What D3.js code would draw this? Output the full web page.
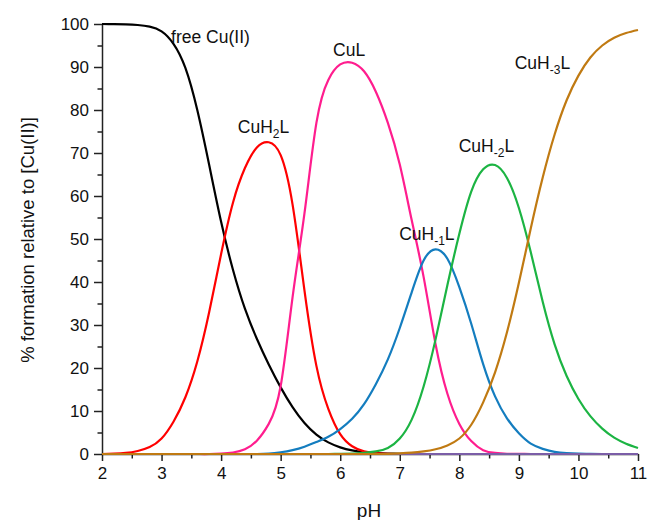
<!DOCTYPE html>
<html>
<head>
<meta charset="utf-8">
<script src="https://cdn.jsdelivr.net/npm/d3@7"></script>
<style>
  html, body { margin: 0; padding: 0; background: #fff; }
  svg { display: block; font-family: "Liberation Sans", Arial, Helvetica, sans-serif; }
</style>
</head>
<body>
<svg id="chart" width="649" height="520"></svg>
<script>
// pH grid of the speciation curves
const pH = [2.0, 2.2, 2.4, 2.6, 2.8, 3.0, 3.2, 3.4, 3.6, 3.8,
            4.0, 4.2, 4.4, 4.6, 4.8, 5.0, 5.2, 5.4, 5.6, 5.8,
            6.0, 6.2, 6.4, 6.6, 6.8, 7.0, 7.2, 7.4, 7.6, 7.8,
            8.0, 8.2, 8.4, 8.6, 8.8, 9.0, 9.2, 9.4, 9.6, 9.8,
            10.0, 10.2, 10.4, 10.6, 10.8, 11.0];

// % of total Cu(II) present as each species
const freeCu = [100, 99.98, 99.92, 99.77, 99.4, 98.3, 95.4, 89.8, 80, 67.2,
                54, 42.8, 33.8, 26.8, 20.8, 15.5, 10.9, 7.2, 4.5, 2.7,
                1.55, 0.85, 0.45, 0.22, 0.1, 0.04, 0, 0, 0, 0,
                0, 0, 0, 0, 0, 0, 0, 0, 0, 0,
                0, 0, 0, 0, 0, 0];
const CuH2L  = [0, 0.08, 0.25, 0.7, 1.6, 3.6, 7.5, 13.2, 21.5, 33,
                46.5, 58.5, 66.5, 71.3, 72.5, 69.5, 58, 38, 20.5, 10.5,
                4.6, 1.8, 0.6, 0.2, 0.05, 0, 0, 0, 0, 0,
                0, 0, 0, 0, 0, 0, 0, 0, 0, 0,
                0, 0, 0, 0, 0, 0];
const CuL    = [0, 0, 0, 0, 0, 0, 0, 0, 0, 0,
                0.1, 0.35, 1.1, 3.1, 7, 15.8, 36.5, 56, 77, 87,
                90.6, 91, 89, 84.2, 77, 67.3, 54.4, 41.2, 25.6, 14,
                7, 3, 0.9, 0.25, 0.06, 0.02, 0, 0, 0, 0,
                0, 0, 0, 0, 0, 0];
const CuHm1L = [0, 0, 0, 0, 0, 0, 0, 0, 0, 0,
                0, 0, 0, 0, 0.1, 0.4, 0.9, 1.7, 2.8, 4.0,
                5.8, 8.2, 11.6, 16.3, 22, 29.3, 37.6, 45, 47.6, 45.4,
                38.8, 30.3, 20.9, 13.4, 8.3, 4.8, 2.4, 1.2, 0.5, 0.2,
                0.08, 0.03, 0, 0, 0, 0];
const CuHm2L = [0, 0, 0, 0, 0, 0, 0, 0, 0, 0,
                0, 0, 0, 0, 0, 0, 0, 0, 0, 0,
                0.03, 0.08, 0.25, 0.6, 1.4, 3.6, 8, 15.7, 26.6, 39.3,
                51.2, 61, 66.2, 67.2, 64.2, 57.2, 46.9, 35.4, 25.5, 18.2,
                12.8, 8.8, 5.9, 3.8, 2.4, 1.4];
const minor  = [0, 0, 0, 0, 0, 0, 0, 0, 0, 0,
                0, 0, 0, 0, 0, 0, 0, 0, 0, 0,
                0, 0, 0, 0, 0, 0, 0, 0, 0, 0,
                0, 0, 0, 0, 0, 0, 0, 0, 0, 0,
                0, 0, 0, 0, 0, 0];
const CuHm3L = [0, 0, 0, 0, 0, 0, 0, 0, 0, 0,
                0, 0, 0, 0, 0, 0, 0, 0, 0, 0,
                0, 0, 0, 0, 0.05, 0.15, 0.3, 0.6, 1.1, 2.0,
                3.6, 6.8, 12, 19, 28.3, 39.8, 52.5, 64.3, 74.3, 82.2,
                88, 92.2, 95, 96.8, 97.9, 98.6];

// tick values
const xTicks = [2, 3, 4, 5, 6, 7, 8, 9, 10, 11];
const xMinorTicks = [2.5, 3.5, 4.5, 5.5, 6.5, 7.5, 8.5, 9.5, 10.5];
const yTicks = [0, 10, 20, 30, 40, 50, 60, 70, 80, 90, 100];
const yMinorTicks = [5, 15, 25, 35, 45, 55, 65, 75, 85, 95];

// series in drawing order
const series = [
  { name: "free", values: freeCu, color: "#000000" },
  { name: "CuH2L", values: CuH2L, color: "#ff0000" },
  { name: "CuL", values: CuL, color: "#ff1d8e" },
  { name: "CuH-1L", values: CuHm1L, color: "#147dbf" },
  { name: "CuH-2L", values: CuHm2L, color: "#1cb443" },
  { name: "trace", values: minor, color: "#7b5ea7" },
  { name: "CuH-3L", values: CuHm3L, color: "#c07a12" }
];

// curve labels: main text, subscript, trailing text, anchor (pH, %)
const labels = [
  { pre: "free Cu(II)", sub: "", post: "", x: 3.16, y: 95.5 },
  { pre: "CuH", sub: "2", post: "L", x: 4.28, y: 74.6 },
  { pre: "CuL", sub: "", post: "", x: 5.88, y: 92.6 },
  { pre: "CuH", sub: "-1", post: "L", x: 6.99, y: 49.8 },
  { pre: "CuH", sub: "-2", post: "L", x: 7.99, y: 70.2 },
  { pre: "CuH", sub: "-3", post: "L", x: 8.93, y: 89.5 }
];

const svg = d3.select("#chart");
const plotLeft = 102, plotRight = 638, plotTop = 24, plotBottom = 454;

const x = d3.scaleLinear().domain([2, 11]).range([plotLeft, plotRight]);
const y = d3.scaleLinear().domain([0, 100]).range([plotBottom, plotTop]);

// minor ticks
svg.append("g")
  .attr("transform", `translate(0,${plotBottom})`)
  .call(d3.axisBottom(x).tickValues(xMinorTicks).tickSize(4.5).tickFormat(""))
  .call(g => g.select(".domain").remove());
svg.append("g")
  .attr("transform", `translate(${plotLeft},0)`)
  .call(d3.axisLeft(y).tickValues(yMinorTicks).tickSize(4.5).tickFormat(""))
  .call(g => g.select(".domain").remove());

// major axes
const xAxis = svg.append("g")
  .attr("transform", `translate(0,${plotBottom})`)
  .call(d3.axisBottom(x).tickValues(xTicks).tickSize(7).tickSizeOuter(0).tickPadding(6).tickFormat(d3.format("d")));
const yAxis = svg.append("g")
  .attr("transform", `translate(${plotLeft},0)`)
  .call(d3.axisLeft(y).tickValues(yTicks).tickSize(8).tickSizeOuter(0).tickPadding(5).tickFormat(d3.format("d")));

[xAxis, yAxis].forEach(g => {
  g.selectAll("path").attr("stroke", "#222").attr("stroke-width", 1.5);
  g.selectAll("text").attr("fill", "#111").style("font-size", "17px")
    .style("font-family", "'Liberation Sans', Arial, sans-serif");
});
svg.selectAll("g line").attr("stroke", "#222").attr("stroke-width", 1.5);

// curves: natural cubic spline through the sampled points
const line = d3.line()
  .x((d, i) => x(pH[i]))
  .y(d => y(d))
  .curve(d3.curveNatural);

svg.append("g").selectAll("path")
  .data(series)
  .join("path")
  .attr("fill", "none")
  .attr("stroke", d => d.color)
  .attr("stroke-width", 2.2)
  .attr("stroke-linejoin", "round")
  .attr("d", d => line(d.values));

// curve labels
const lab = svg.append("g").attr("fill", "#111").style("font-size", "17.5px");
labels.forEach(l => {
  const t = lab.append("text").attr("x", x(l.x)).attr("y", y(l.y));
  t.append("tspan").text(l.pre);
  if (l.sub) {
    t.append("tspan").attr("dy", 5).style("font-size", "12px").text(l.sub);
    t.append("tspan").attr("dy", -5).text(l.post);
  }
});

// axis titles
svg.append("text")
  .attr("x", (plotLeft + plotRight) / 2 - 1)
  .attr("y", 517)
  .attr("text-anchor", "middle")
  .attr("fill", "#111")
  .style("font-size", "19px")
  .text("pH");

svg.append("text")
  .attr("transform", `translate(34,${(plotTop + plotBottom) / 2 + 1}) rotate(-90)`)
  .attr("text-anchor", "middle")
  .attr("fill", "#111")
  .style("font-size", "18.5px")
  .text("% formation relative to [Cu(II)]");
</script>
</body>
</html>
